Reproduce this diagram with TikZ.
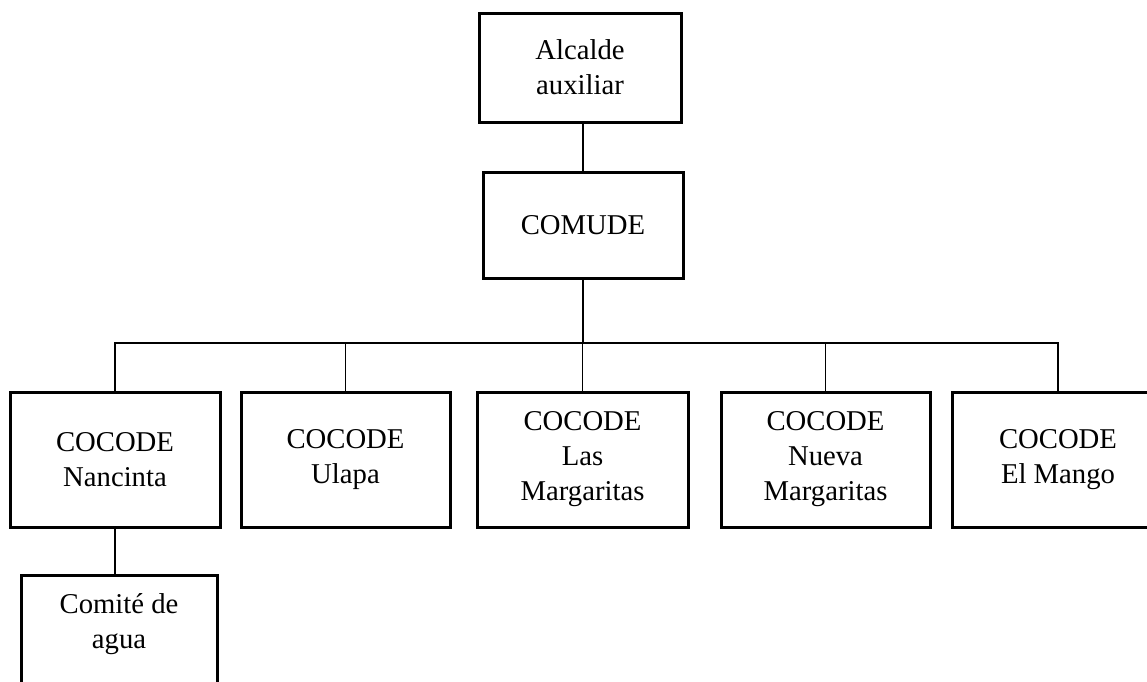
\documentclass[tikz,border=0pt]{standalone}
\usepackage{fontspec}
\setmainfont{Liberation Serif}
\usepackage{tikz}
\usetikzlibrary{calc}

\begin{document}
\begin{tikzpicture}[x=1pt, y=-1pt,
    orgbox/.style={draw=black, line width=3pt, inner sep=0pt, align=center,
        minimum height=135, font=\fontsize{28.7}{35}\selectfont},
    orgtext/.style={inner sep=0pt, align=center, font=\fontsize{28.7}{35}\selectfont},
    link/.style={black, line width=1.5pt}]
    % Fix the page and cut what runs over it
    \useasboundingbox (0,0) rectangle (1147,681);
    \clip (0,0) rectangle (1147,681);
    % Draw top boxes
    \node[orgbox, minimum width=202, minimum height=109] (alcalde) at (580,67.5) {Alcalde\\auxiliar};
    \node[orgbox, minimum width=200, minimum height=106] (comude) at (583,225) {COMUDE};
    % Draw COCODE boxes
    \node[orgbox, minimum width=210] (nancinta) at (115,459.5) {COCODE\\Nancinta};
    \node[orgbox, minimum width=209] (ulapa) at (345.5,459.5) {COCODE\\Ulapa};
    \node[orgbox, minimum width=211] (lasmarg) at (582.5,459.5) {COCODE\\Las\\Margaritas};
    \node[orgbox, minimum width=209] (nuevamarg) at (825.5,459.5) {COCODE\\Nueva\\Margaritas};
    \node[orgbox, minimum width=212] (mango) at (1058,459.5) {COCODE\\El Mango};
    % Draw water committee box
    \node[orgbox, minimum width=196, anchor=north] (comite) at (119,574) {};
    \node[orgtext] (comitetext) at (119,624) {Comité de\\agua};
    % Draw connectors
    \coordinate (bus) at (583,343);
    \draw[link] (alcalde.south -| comude.north) -- (comude.north);
    \draw[link] (comude.south) -- (bus);
    \draw[link] (nancinta.north) |- (bus) -| (mango.north);
    \foreach \c in {ulapa, lasmarg, nuevamarg}
    {
        \draw[link] (\c.north) -- (\c.north |- bus);
    }
    \draw[link] (nancinta.south) -- (nancinta.south |- comite.north);
\end{tikzpicture}
\end{document}
